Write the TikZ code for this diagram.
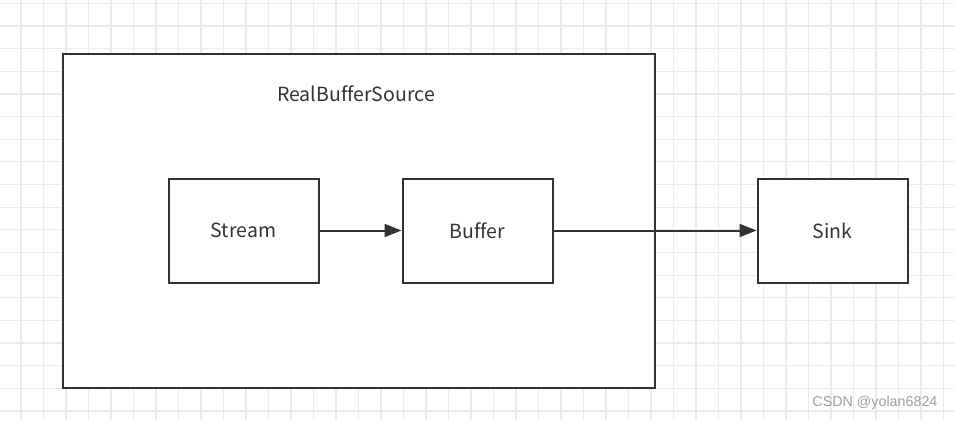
\documentclass[tikz,border=0pt]{standalone}
\usepackage{fontspec}
\setmainfont[Ligatures=NoCommon]{Noto Sans CJK SC}
\newfontfamily\markfont{Liberation Sans}
\usetikzlibrary{arrows.meta}
\definecolor{inkgray}{HTML}{333333}
\definecolor{gridgray}{HTML}{EBEBEB}
\tikzstyle{block} = [draw=inkgray, line width=2pt, minimum width=150pt, minimum height=104pt, inner sep=0pt, text=inkgray, font=\fontsize{19.5}{23}\selectfont]
\tikzstyle{flow} = [draw=inkgray, line width=2pt, -{Triangle[length=17pt, width=13pt]}]
\tikzstyle{gridline} = [draw=gridgray, line width=1.2pt]

\begin{document}
\begin{tikzpicture}[x=1pt, y=-1pt]
        \useasboundingbox [fill=white] (0,0) rectangle (955,420);
        \foreach \k in {0,...,42} {\draw [gridline] ({21+22.5*\k},0) -- ({21+22.5*\k},420);}
        \foreach \k in {0,...,18} {\draw [gridline] (0,{3.3+22.65*\k}) -- (955,{3.3+22.65*\k});}
        \node (source) [block, fill=white, minimum width=592pt, minimum height=334pt] at (359,221) {};
        \node (title) [text=inkgray, font=\fontsize{19.5}{23}\selectfont] at (356,94) {RealBufferSource};
        \node (stream) [block, fill=white] at (243.5,230.5) {Stream};
        \node (buffer) [block, fill=white] at (477.5,230.5) {Buffer};
        \node (sink) [block, fill=white] at (832.5,230.5) {Sink};
        \draw [flow] (stream) -- (buffer);
        \draw [flow] (buffer) -- (sink);
        \node (mark) [anchor=east, text=gray!75, font=\markfont\fontsize{14.3}{16}\selectfont] at (941,403) {CSDN @yolan6824};
    \end{tikzpicture}
\end{document}
